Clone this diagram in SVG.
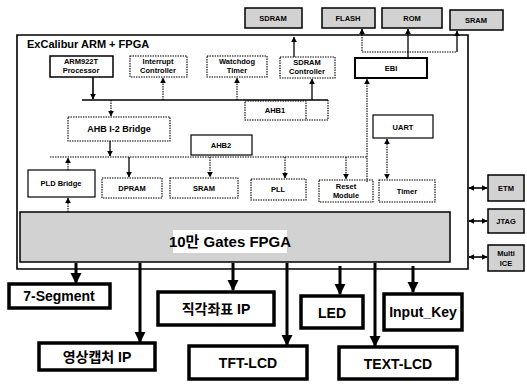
<svg xmlns="http://www.w3.org/2000/svg" width="527" height="384" viewBox="0 0 527 384">
<style>
text{font-family:"Liberation Sans","Noto Sans CJK KR",sans-serif;font-weight:bold;fill:#000;text-anchor:middle}
.s{font-size:7.5px}
.m{font-size:9px}
.b{font-size:14px}
.solid{fill:#fff;stroke:#000;stroke-width:1.5}
.dot{fill:#fff;stroke:#000;stroke-width:1.1;stroke-dasharray:1.5 1}
.gray{fill:#d2d2d2;stroke:#000;stroke-width:1.5}
.thick{fill:#fff;stroke:#000;stroke-width:3.5}
.ln{fill:none;stroke:#000;stroke-width:1.3}
.dl{fill:none;stroke:#000;stroke-width:1.1;stroke-dasharray:1.5 1}
.tl{fill:none;stroke:#000;stroke-width:3}
</style>
<defs>
<marker id="ah" viewBox="0 0 10 10" refX="9" refY="5" markerWidth="6" markerHeight="6" markerUnits="userSpaceOnUse" orient="auto-start-reverse"><path d="M0,0 L10,5 L0,10 z"/></marker>
<marker id="ab" viewBox="0 0 10 10" refX="9" refY="5" markerWidth="11" markerHeight="12" markerUnits="userSpaceOnUse" orient="auto"><path d="M0,0 L10,5 L0,10 z"/></marker>
</defs>

<g id="outer"><path class="ln" d="M17,35 H468 V269 H17 Z" style="stroke-width:1.6"/>
<text x="27" y="48" style="font-size:11px;text-anchor:start">ExCalibur ARM + FPGA</text></g>

<g id="sdram"><rect class="gray" x="245" y="8" width="57" height="20"/><text class="s" x="273" y="21">SDRAM</text></g>
<g id="flash"><rect class="gray" x="322" y="8" width="53" height="20"/><text class="s" x="348" y="21">FLASH</text></g>
<g id="rom"><rect class="gray" x="382" y="8" width="60" height="20"/><text class="s" x="412" y="21">ROM</text></g>
<g id="sram-ext"><rect class="gray" x="450" y="10" width="53" height="20"/><text class="s" x="476" y="23">SRAM</text></g>

<g id="arm"><rect class="solid" x="50" y="56" width="63" height="21"/><text class="s" x="81" y="64">ARM922T</text><text class="s" x="81" y="73">Processor</text></g>
<g id="intc"><rect class="dot" x="130" y="56" width="57" height="21"/><text class="s" x="158" y="64">Interrupt</text><text class="s" x="158" y="73">Controller</text></g>
<g id="wdt"><rect class="dot" x="207" y="56" width="60" height="21"/><text class="s" x="237" y="64">Watchdog</text><text class="s" x="237" y="73">Timer</text></g>
<g id="sdramc"><rect class="dot" x="280" y="57" width="55" height="21"/><text class="s" x="307" y="65">SDRAM</text><text class="s" x="307" y="74">Controller</text></g>
<g id="ebi"><rect class="solid" x="355" y="58" width="72" height="20" style="stroke-width:2"/><text class="s" x="391" y="71">EBI</text></g>

<g id="ahb1"><rect class="dot" x="245" y="101" width="61" height="19"/><text class="s" x="275" y="113">AHB1</text></g>
<g id="bridge"><rect class="dot" x="68" y="117" width="102" height="24"/><text class="m" x="119" y="132">AHB I-2 Bridge</text></g>
<g id="ahb2"><rect class="solid" x="191" y="135" width="61" height="20" style="stroke-width:1.2"/><text class="s" x="221" y="148">AHB2</text></g>
<g id="uart"><rect class="solid" x="373" y="115" width="60" height="23" style="stroke-width:1.2"/><text class="s" x="403" y="130">UART</text></g>

<g id="pld"><rect class="solid" x="28" y="170" width="67" height="27" style="stroke-width:1.2"/><text class="s" x="61" y="186">PLD Bridge</text></g>
<g id="dpram"><rect class="dot" x="102" y="178" width="60" height="20"/><text class="s" x="132" y="191">DPRAM</text></g>
<g id="sram"><rect class="dot" x="170" y="178" width="68" height="20"/><text class="s" x="204" y="191">SRAM</text></g>
<g id="pll"><rect class="dot" x="251" y="179" width="55" height="21"/><text class="s" x="278" y="192">PLL</text></g>
<g id="reset"><rect class="dot" x="319" y="180" width="54" height="22"/><text class="s" x="346" y="189">Reset</text><text class="s" x="346" y="198">Module</text></g>
<g id="timer"><rect class="dot" x="379" y="180" width="56" height="22"/><text class="s" x="407" y="194">Timer</text></g>

<g id="fpga"><rect class="gray" x="20" y="212" width="430" height="50"/><rect x="173" y="230" width="114" height="23" fill="#fff"/><text x="230" y="247" style="font-size:15px">10만 Gates FPGA</text></g>

<g id="etm"><rect class="gray" x="488" y="175" width="36" height="26"/><text class="s" x="506" y="191">ETM</text></g>
<g id="jtag"><rect class="gray" x="488" y="209" width="36" height="24"/><text class="s" x="506" y="224">JTAG</text></g>
<g id="multiice"><rect class="gray" x="488" y="245" width="36" height="26"/><text class="s" x="506" y="256">Multi</text><text class="s" x="506" y="266">ICE</text></g>

<g id="seg7"><rect class="thick" x="9" y="284" width="101" height="24"/><text class="b" x="59" y="301">7-Segment</text></g>
<g id="capture"><rect class="thick" x="39" y="343" width="116" height="27"/><text class="b" x="97" y="362">영상캡처 IP</text></g>
<g id="coord"><rect class="thick" x="158" y="292" width="116" height="33"/><text class="b" x="216" y="314">직각좌표 IP</text></g>
<g id="tft"><rect class="thick" x="189" y="346" width="118" height="33"/><text class="b" x="248" y="368">TFT-LCD</text></g>
<g id="led"><rect class="thick" x="301" y="296" width="62" height="32"/><text class="b" x="332" y="318">LED</text></g>
<g id="inputkey"><rect class="thick" x="384" y="294" width="78" height="36"/><text class="b" x="423" y="317">Input_Key</text></g>
<g id="textlcd"><rect class="thick" x="339" y="347" width="118" height="32"/><text class="b" x="398" y="369">TEXT-LCD</text></g>

<g id="connectors">
<path class="ln" d="M294,57 V37" marker-end="url(#ah)"/>
<path class="ln" d="M362,36 V29" marker-end="url(#ah)"/>
<path class="ln" d="M408,58 V29" marker-end="url(#ah)"/>
<path class="ln" d="M457,52 V31" marker-end="url(#ah)"/>
<path class="dl" d="M362,37 V52 H457"/>
<path class="ln" d="M82,100 H328"/>
<path class="ln" d="M93,77 V99" marker-end="url(#ah)" style="stroke-width:1.6"/>
<path class="dl" d="M163,100 V78" marker-end="url(#ah)"/>
<path class="dl" d="M237,100 V78" marker-end="url(#ah)"/>
<path class="ln" d="M312,100 V79" marker-end="url(#ah)"/>
<path class="dl" d="M328,100 V120 H306"/>
<path class="dl" d="M111,100 V116" marker-end="url(#ah)"/>
<path class="dl" d="M50,157 H367"/>
<path class="ln" d="M110,141 V156" marker-end="url(#ah)"/>
<path class="dl" d="M367,182 V79" marker-end="url(#ah)"/>
<path class="dl" d="M68,170 V158" marker-end="url(#ah)"/>
<path class="ln" d="M129,157 V177" marker-end="url(#ah)"/>
<path class="dl" d="M210,157 V177" marker-end="url(#ah)"/>
<path class="dl" d="M285,157 V178" marker-end="url(#ah)"/>
<path class="dl" d="M346,157 V179" marker-end="url(#ah)"/>
<path class="dl" d="M387,139 V179" marker-start="url(#ah)" marker-end="url(#ah)"/>
<path class="dl" d="M68,212 V198" marker-end="url(#ah)"/>
<path class="ln" d="M469,188 H487" marker-start="url(#ah)" marker-end="url(#ah)" style="stroke-width:1.6"/>
<path class="ln" d="M469,221 H487" marker-start="url(#ah)" marker-end="url(#ah)" style="stroke-width:1.6"/>
<path class="ln" d="M469,257 H487" marker-start="url(#ah)" marker-end="url(#ah)" style="stroke-width:1.6"/>
<path class="tl" d="M76,263 V283" marker-end="url(#ab)"/>
<path class="tl" d="M140,263 V342" marker-end="url(#ab)"/>
<path class="tl" d="M233,263 V290" marker-end="url(#ab)"/>
<path class="tl" d="M287,263 V345" marker-end="url(#ab)"/>
<path class="tl" d="M340,266 V294" marker-end="url(#ab)"/>
<path class="tl" d="M375,263 V346" marker-end="url(#ab)"/>
<path class="tl" d="M413,266 V292" marker-end="url(#ab)"/>
</g>
</svg>
